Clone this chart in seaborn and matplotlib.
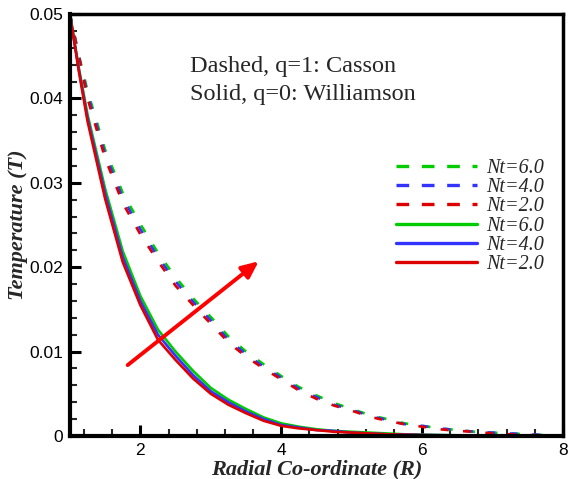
import numpy as np
import pandas as pd
import matplotlib
matplotlib.use("Agg")
import matplotlib.pyplot as plt
from matplotlib.ticker import MultipleLocator
from matplotlib.lines import Line2D
import seaborn as sns

# ---------------- data ----------------
R = [1, 1.125, 1.25, 1.5, 1.75, 2, 2.25, 2.5, 2.75, 3, 3.25, 3.5, 3.75, 4,
     4.25, 4.5, 4.75, 5, 5.25, 5.5, 5.75, 6, 6.25, 6.5, 6.75, 7, 7.25, 7.5, 7.75, 8]

# Solid, q=0 : Williamson
solid_nt2 = [0.050, 0.0433, 0.0373, 0.0281, 0.0206, 0.0155, 0.0114, 0.0090, 0.0068, 0.0050,
             0.0037, 0.0027, 0.0018, 0.0012, 0.0009, 0.0007, 0.0005, 0.0004, 0.0003, 0.0002,
             0.00015, 0.0001, 0.00008, 0.00006, 0.00004, 0.00003, 0.00002, 0.00001, 0.00001, 0.0]
solid_nt4 = [0.050, 0.0435, 0.0377, 0.0287, 0.0212, 0.0160, 0.0120, 0.0095, 0.0072, 0.0053,
             0.0040, 0.0029, 0.0020, 0.0013, 0.0010, 0.0007, 0.0006, 0.0004, 0.0003, 0.0002,
             0.00018, 0.00012, 0.0001, 0.00007, 0.00005, 0.00003, 0.00002, 0.00001, 0.00001, 0.0]
solid_nt6 = [0.050, 0.0437, 0.0381, 0.0293, 0.0219, 0.0166, 0.0126, 0.0100, 0.0077, 0.0057,
             0.0043, 0.0032, 0.0022, 0.0015, 0.0011, 0.0008, 0.0006, 0.0005, 0.0004, 0.0003,
             0.0002, 0.00015, 0.00011, 0.00008, 0.00006, 0.00004, 0.00003, 0.00002, 0.00001, 0.0]

# Dashed, q=1 : Casson
dash_nt2 = [0.050, 0.0450, 0.0400, 0.0329, 0.0276, 0.0239, 0.0207, 0.0178, 0.0155, 0.0133,
            0.0111, 0.0094, 0.0080, 0.0067, 0.0054, 0.0044, 0.0036, 0.0030, 0.0023, 0.0018,
            0.0014, 0.0011, 0.0008, 0.0006, 0.0005, 0.0003, 0.0002, 0.0001, 0.0001, 0.0]
dash_nt4 = [0.050, 0.0451, 0.0405, 0.0334, 0.0282, 0.0245, 0.0212, 0.0183, 0.0159, 0.0137,
            0.0114, 0.0097, 0.0082, 0.0069, 0.0056, 0.0046, 0.0037, 0.0031, 0.0024, 0.0019,
            0.0014, 0.0012, 0.0009, 0.0007, 0.0005, 0.0004, 0.0003, 0.0002, 0.0001, 0.0]
dash_nt6 = [0.050, 0.0452, 0.0409, 0.0339, 0.0288, 0.0251, 0.0217, 0.0188, 0.0163, 0.0141,
            0.0118, 0.0100, 0.0085, 0.0071, 0.0058, 0.0048, 0.0039, 0.0032, 0.0025, 0.0020,
            0.0015, 0.0012, 0.0009, 0.0007, 0.0005, 0.0004, 0.0003, 0.0002, 0.0001, 0.0]

nt_labels = ["Nt=6.0", "Nt=4.0", "Nt=2.0"]
x_ticks = [2, 4, 6, 8]
y_ticks = [0, 0.01, 0.02, 0.03, 0.04, 0.05]
y_ticklabels = ["0", "0.01", "0.02", "0.03", "0.04", "0.05"]

# ---------------- styling ----------------
sns.set_style("ticks")
plt.rcParams["font.family"] = ["Liberation Sans", "DejaVu Sans"]

GREEN = "#00cc00"
BLUE = "#3333ff"
RED = "#dd0000"

fig = plt.figure(figsize=(5.73, 4.79), dpi=100)
ax = fig.add_axes([0.122, 0.0898, 0.8605, 0.881])

lw = 1.9
dash_plot = (0, (3.0, 5.5))
dash_leg = (0, (3.8, 3.8))

series = [
    (dash_nt6, GREEN, "--"),
    (dash_nt4, BLUE, "--"),
    (dash_nt2, RED, "--"),
    (solid_nt6, GREEN, "-"),
    (solid_nt4, BLUE, "-"),
    (solid_nt2, RED, "-"),
]
for vals, col, ls in series:
    df = pd.DataFrame({"R": R, "T": vals})
    sns.lineplot(data=df, x="R", y="T", ax=ax, color=col, linewidth=lw,
                 linestyle=dash_plot if ls == "--" else "-",
                 estimator=None, sort=False, legend=False)

ax.set_xlim(1, 8)
ax.set_ylim(0, 0.05)
ax.set_xticks(x_ticks)
ax.set_yticks(y_ticks)
ax.set_yticklabels(y_ticklabels)
ax.xaxis.set_minor_locator(MultipleLocator(0.4))
ax.yaxis.set_minor_locator(MultipleLocator(0.002))
ax.tick_params(axis="both", which="major", direction="in", length=8, width=2.2,
               labelsize=12.5, colors="black", top=False, right=False, pad=5)
ax.tick_params(axis="both", which="minor", direction="in", length=5, width=1.5,
               top=False, right=False)
for name, sp in ax.spines.items():
    sp.set_visible(True)
    sp.set_linewidth(3.0 if name in ("left", "bottom") else 2.5)
    sp.set_color("black")

serif = ["Liberation Serif", "DejaVu Serif"]
ax.set_xlabel("Radial Co-ordinate (R)", fontsize=16, fontweight="bold",
              fontstyle="italic", family=serif, labelpad=1)
ax.set_ylabel("Temperature (T)", fontsize=16, fontweight="bold",
              fontstyle="italic", family=serif, labelpad=1)

ax.text(2.70, 0.0438, "Dashed, q=1: Casson", fontsize=17.5, family=serif,
        va="center", ha="left")
ax.text(2.70, 0.0405, "Solid, q=0: Williamson", fontsize=17.5, family=serif,
        va="center", ha="left")

# red arrow
ax.annotate("", xy=(3.68, 0.0207), xytext=(1.82, 0.0084),
            arrowprops=dict(arrowstyle="-|>,head_length=1.0,head_width=0.45",
                            color="#ff0000", lw=2.8, shrinkA=0, shrinkB=0))

handles = [Line2D([], [], color=c, lw=2.4, linestyle=(dash_leg if ls == "--" else "-"))
           for _, c, ls in series]
labels = nt_labels + nt_labels
leg = ax.legend(handles, labels, loc="upper left", bbox_to_anchor=(0.645, 0.675),
                frameon=False, handlelength=4.0, handletextpad=0.5,
                labelspacing=0.0, borderaxespad=0,
                prop=dict(family=serif, style="italic", size=14.5))

fig.savefig("out.png", dpi=100)
